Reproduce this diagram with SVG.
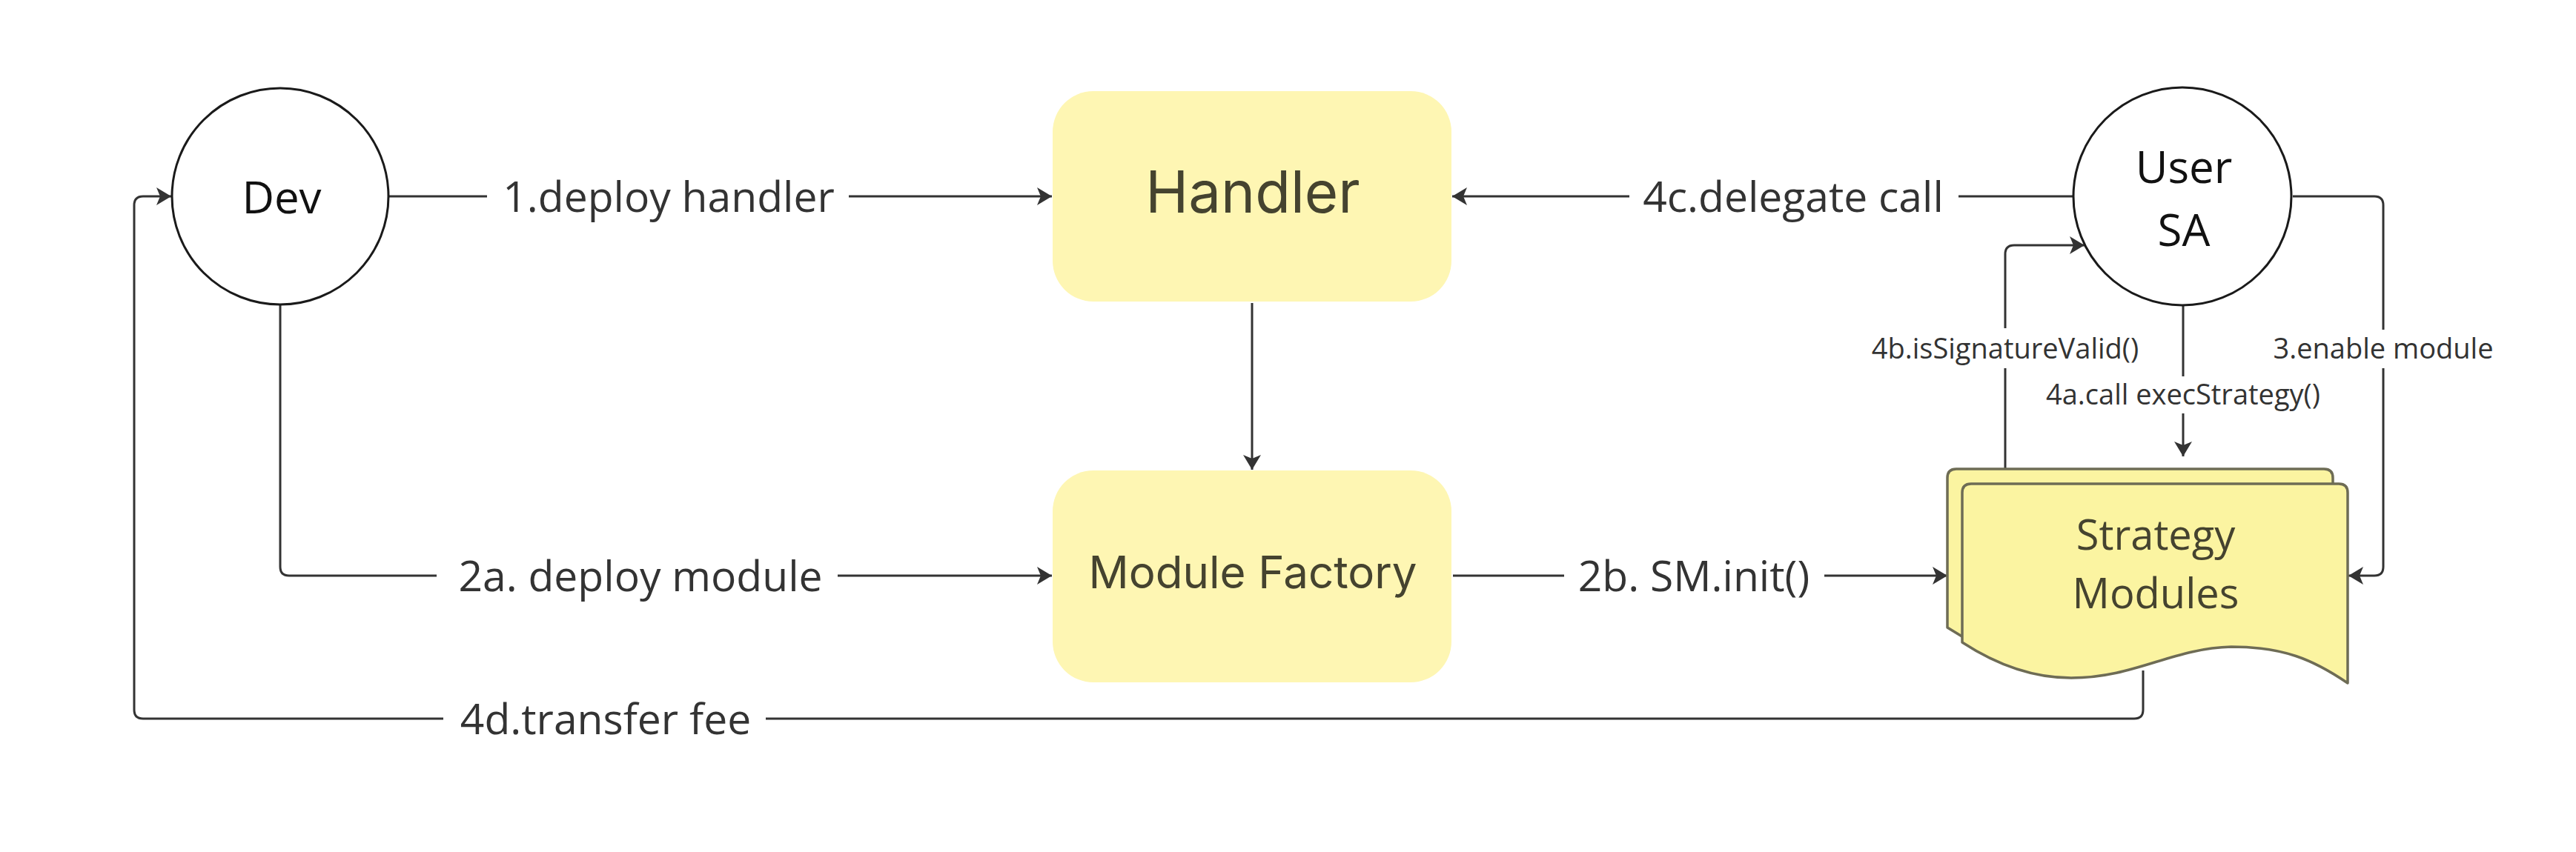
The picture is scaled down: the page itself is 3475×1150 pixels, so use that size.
<svg xmlns="http://www.w3.org/2000/svg" width="3475" height="1150" viewBox="0 0 3475 1150">
<style>
.bg{fill:#ffffff}
.circ{fill:#ffffff;stroke:#1a1a1a;stroke-width:3}
.box{fill:#FEF6B3;stroke:none}
.card{fill:#FBF4A1;stroke:#6E6C55;stroke-width:3.5;stroke-linejoin:round}
.conn{fill:none;stroke:#333333;stroke-width:3;stroke-linejoin:round}
.lbl{font-family:"Open Sans","Noto Sans",sans-serif;font-size:57px;fill:#333333;text-anchor:middle}
.slbl{font-family:"Open Sans","Noto Sans",sans-serif;font-size:38px;fill:#333333;text-anchor:middle}
.ntext{font-family:"Open Sans","Noto Sans",sans-serif;font-size:60px;fill:#111111;text-anchor:middle}
.btext{font-family:Inter,"Noto Sans",sans-serif;fill:#45432F;text-anchor:middle}
.stext{font-family:"Open Sans","Noto Sans",sans-serif;font-size:56px;fill:#45432F;text-anchor:middle}
</style>
<defs>
<marker id="arr" viewBox="0 0 20 24" markerWidth="20" markerHeight="24" refX="20" refY="12" orient="auto" markerUnits="userSpaceOnUse">
<path d="M0,0 L20,12 L0,24 L5,12 Z" fill="#333333"/>
</marker>
</defs>
<rect class="bg" x="0" y="0" width="3475" height="1150"/>

<g id="connectors">
<path class="conn" d="M525,265 H657 M1145,265 H1419" marker-end="url(#arr)"/>
<path class="conn" d="M1689,409 V634" marker-end="url(#arr)"/>
<path class="conn" d="M378,411 V765 Q378,777 390,777 H589 M1130,777 H1419" marker-end="url(#arr)"/>
<path class="conn" d="M1960,777 H2110 M2461,777 H2627" marker-end="url(#arr)"/>
<path class="conn" d="M2796,265 H2642 M2198,265 H1959" marker-end="url(#arr)"/>
<path class="conn" d="M3093,265 H3203 Q3215,265 3215,277 V445 M3215,497 V765 Q3215,777 3203,777 H3168" marker-end="url(#arr)"/>
<path class="conn" d="M2945,412 V508 M2945,558 V616" marker-end="url(#arr)"/>
<path class="conn" d="M2705,633 V497 M2705,443 V343 Q2705,331 2717,331 H2812" marker-end="url(#arr)"/>
<path class="conn" d="M2891,905 V958 Q2891,970 2879,970 H1033 M598,970 H193 Q181,970 181,958 V277 Q181,265 193,265 H231" marker-end="url(#arr)"/>
<text class="lbl" x="902" y="286">1.deploy handler</text>
<text class="lbl" x="864" y="798">2a. deploy module</text>
<text class="lbl" x="817" y="991">4d.transfer fee</text>
<text class="lbl" x="2285" y="798">2b. SM.init()</text>
<text class="lbl" x="2419" y="286">4c.delegate call</text>
<text class="slbl" x="2705" y="484">4b.isSignatureValid()</text>
<text class="slbl" x="3215" y="484">3.enable module</text>
<text class="slbl" x="2945" y="546">4a.call execStrategy()</text>
</g>

<g id="dev">
<circle class="circ" cx="378" cy="265" r="146"/>
<text class="ntext" x="380" y="288">Dev</text>
</g>

<g id="user-sa">
<circle class="circ" cx="2944" cy="265" r="147"/>
<text class="ntext" x="2946" y="247">User</text>
<text class="ntext" x="2946" y="332">SA</text>
</g>

<g id="handler">
<rect class="box" x="1420" y="123" width="538" height="284" rx="55" ry="55"/>
<text class="btext" x="1690" y="287" font-size="78">Handler</text>
</g>

<g id="module-factory">
<rect class="box" x="1420" y="635" width="538" height="286" rx="55" ry="55"/>
<text class="btext" x="1690" y="794" font-size="60">Module Factory</text>
</g>

<g id="strategy-modules">
<path class="card" d="M2627,645 Q2627,633 2639,633 H3135 Q3147,633 3147,645 V902 C3100,870 3060,853 2990,853 C2910,855 2860,895 2774,895 C2720,895 2670,875 2627,847 Z"/>
<path class="card" d="M2647,665 Q2647,653 2659,653 H3155 Q3167,653 3167,665 V922 C3120,890 3080,873 3010,873 C2930,875 2880,915 2794,915 C2740,915 2690,895 2647,867 Z"/>
<text class="stext" x="2908" y="742">Strategy</text>
<text class="stext" x="2908" y="821">Modules</text>
</g>
</svg>
